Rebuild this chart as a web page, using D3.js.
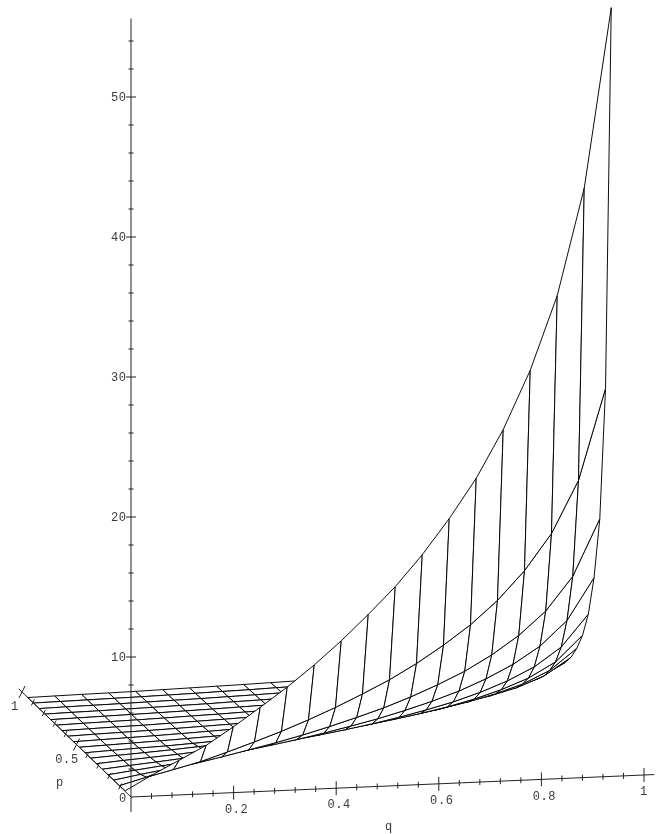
<!DOCTYPE html>
<html><head><meta charset="utf-8">
<style>html,body{margin:0;background:#fff}svg{display:block;will-change:transform}text{font-family:"Liberation Mono",monospace;font-size:12px;fill:#3a3a3a;letter-spacing:.6px}</style>
<script src="https://cdn.jsdelivr.net/npm/d3@7"></script></head><body>
<script>
const qGrid=d3.range(19).map(i=>i/19), pGrid=d3.range(1,19).map(i=>i/19);
const zP01=[.05,1.1,2.07,3.05,4.28,5.6,6.96,8.46,10.1,11.9,13.8,16,18.5,21.3,24.7,28.85,34.1,41.7,54.5];
const zP02=[.02,.54,1.01,1.49,2.10,2.74,3.41,4.15,4.95,5.83,6.76,7.84,9.07,10.44,12.10,14.14,16.71,20.43,26.9];
const zP03=[.02,.35,.65,.96,1.35,1.77,2.20,2.67,3.19,3.76,4.36,5.06,5.85,6.73,7.81,9.12,10.78,13.18,17.2];
const zP04=[.01,.25,.48,.70,.99,1.29,1.61,1.95,2.33,2.75,3.19,3.70,4.27,4.92,5.71,6.66,7.88,9.63,12.6];
const zP05=[.01,.19,.36,.54,.75,.99,1.22,1.49,1.78,2.09,2.43,2.82,3.26,3.75,4.35,5.08,6.00,7.34,9.6];
const zP06=[.01,.16,.29,.43,.60,.79,.98,1.19,1.42,1.68,1.95,2.26,2.61,3.00,3.48,4.07,4.81,5.88,7.7];
const zP07=[.01,.13,.24,.36,.50,.66,.81,.99,1.18,1.39,1.61,1.87,2.16,2.49,2.89,3.38,3.99,4.88,6.37];
const zP08=[0,.09,.17,.24,.34,.45,.56,.68,.81,.95,1.10,1.35,1.65,1.99,2.42,2.83,3.34,4.09,5.34];
const zP09=[0,.07,.14,.21,.29,.38,.47,.58,.69,.81,.94,1.15,1.41,1.70,2.07,2.42,2.86,3.50,4.58];
const zP10=[0,.06,.12,.18,.25,.33,.41,.50,.60,.70,.81,1.00,1.22,1.47,1.79,2.09,2.47,3.02,3.95];
const zP11=[0,.06,.11,.16,.22,.29,.36,.44,.53,.62,.72,.88,1.06,1.28,1.56,1.82,2.15,2.63,3.43];
const zP12=[0,.05,.10,.14,.20,.26,.32,.39,.46,.55,.63,.77,.93,1.12,1.36,1.59,1.88,2.29,3.00];
const zP13=[0,.05,.09,.13,.18,.24,.29,.36,.42,.50,.58,.70,.84,1.00,1.21,1.41,1.66,2.03,2.66];
const zP14=[0,.04,.08,.12,.16,.21,.26,.32,.38,.45,.52,.63,.75,.89,1.06,1.24,1.47,1.79,2.34];
const zP15=[0,.04,.07,.11,.15,.20,.24,.30,.35,.42,.48,.57,.68,.79,.94,1.10,1.30,1.58,2.07];
const zP16=[0,.04,.07,.10,.14,.18,.22,.27,.32,.38,.44,.52,.61,.71,.84,.98,1.16,1.42,1.85];
const zP17=[0,.03,.06,.09,.12,.16,.20,.25,.29,.35,.40,.48,.55,.63,.74,.87,1.02,1.25,1.64];
const zP18=[0,.03,.06,.08,.11,.15,.19,.23,.27,.32,.37,.43,.50,.57,.66,.77,.91,1.12,1.46];
const zRows=[zP01,zP02,zP03,zP04,zP05,zP06,zP07,zP08,zP09,zP10,zP11,zP12,zP13,zP14,zP15,zP16,zP17,zP18];
const qTicksMajor=[0.2,0.4,0.6,0.8,1], zTicksMajor=[10,20,30,40,50];
const W=659,H=834;
const qx=d3.scaleLinear([0,1],[0,513]),qy=d3.scaleLinear([0,1],[0,-22]);
const px=d3.scaleLinear([0,1],[0,-109]),py=d3.scaleLinear([0,1],[0,-105]);
const zy=d3.scaleLinear([0,50],[0,-700]);
const X=(q,p)=>131+qx(q)+px(p), Y=(q,p,z)=>797+qy(q)+py(p)+zy(z);
const svg=d3.select("body").append("svg").attr("width",W).attr("height",H);
svg.append("rect").attr("width",W).attr("height",H).attr("fill","#fff");
const quads=[];
for(let k=pGrid.length-2;k>=0;k--)for(let i=0;i<qGrid.length-1;i++){
 quads.push([[i,k],[i+1,k],[i+1,k+1],[i,k+1]].map(([a,b])=>[X(qGrid[a],pGrid[b]),Y(qGrid[a],pGrid[b],zRows[b][a])]));
}
svg.append("g").selectAll("path").data(quads).join("path").attr("d",d=>d3.line()(d)+"Z")
 .attr("fill","#fff").attr("stroke","#000").attr("stroke-width",0.95).attr("stroke-linejoin","round");
const ax=svg.append("g").attr("stroke","#222").attr("stroke-width",1);
const L=(a,b,c,d)=>ax.append("line").attr("x1",a).attr("y1",b).attr("x2",c).attr("y2",d);
L(X(0,0),Y(0,0,0),X(1.02,0),Y(1.02,0,0));
L(X(0,0),Y(0,0,0),X(0,1.03),Y(0,1.03,0));
L(X(0,0),Y(0,0,-1.07),X(0,0),Y(0,0,55.6));
d3.range(1,26).map(i=>i*0.04).forEach((q,i)=>{const m=(i+1)%5==0?7:3;L(X(q,0),Y(q,0,0)-m,X(q,0),Y(q,0,0)+m);});
d3.range(1,11).map(i=>i*0.1).forEach((p,i)=>{const m=(i+1)%5==0?1:.5;L(X(0,p)-3*m,Y(0,p,0)+6*m,X(0,p)+3*m,Y(0,p,0)-6*m);});
d3.range(1,28).map(i=>i*2).forEach(z=>{const m=z%10==0?5:2.5;L(131-m,Y(0,0,z),131+m,Y(0,0,z));});
const T=(s,x,y,a="middle")=>svg.append("text").attr("x",x).attr("y",y).attr("dy","0.35em").attr("text-anchor",a).text(s);
qTicksMajor.forEach(q=>T(String(q),X(q,0)+(q==1?0:3),Y(q,0,0)+16));
zTicksMajor.forEach(z=>T(String(z),126.5,Y(0,0,z),"end"));
T("0",123,798);T("0.5",67,759);T("1",15,706);T("p",60,782);T("q",389,826);
</script></body></html>
